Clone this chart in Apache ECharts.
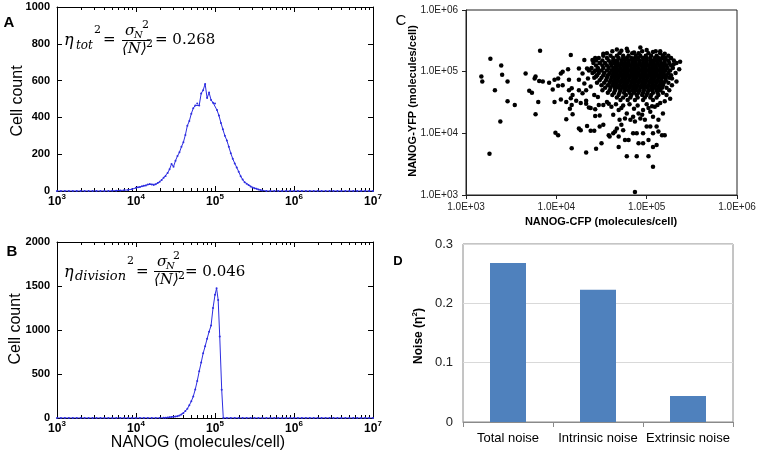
<!DOCTYPE html>
<html><head><meta charset="utf-8">
<script src="https://cdn.jsdelivr.net/npm/echarts@6/dist/echarts.min.js"></script>
<style>html,body{margin:0;padding:0;background:#fff}#c{width:759px;height:465px}</style>
</head><body><div id="c"></div>
<script>
// ---------- DATA ----------
// Panel A: total NANOG histogram (x as log10 molecules/cell, y cell count)
const histA_logX = [3.00,3.05,3.10,3.15,3.20,3.25,3.30,3.35,3.40,3.45,3.50,3.55,3.60,3.65,3.70,3.75,3.80,3.85,3.90,3.95,
  4.000,4.025,4.050,4.075,4.100,4.125,4.150,4.175,4.200,4.225,4.250,4.275,4.300,4.325,4.350,4.375,4.400,4.425,4.450,4.475,
  4.500,4.525,4.550,4.575,4.600,4.625,4.650,4.675,4.700,4.725,4.750,4.775,4.800,4.825,4.850,4.875,4.900,4.925,4.950,4.975,
  5.000,5.025,5.050,5.075,5.100,5.125,5.150,5.175,5.200,5.225,5.250,5.275,5.300,5.325,5.350,5.375,5.400,5.425,5.450,5.475,
  5.500,5.525,5.550,5.575,5.600,
  5.65,5.70,5.75,5.80,5.85,5.90,5.95,6.00,6.05,6.10,6.15,6.20,6.25,6.30,6.35,6.40,6.45,6.50,6.55,6.60,6.65,6.70,6.75,6.80,6.85,6.90,6.95,7.00];
const histA_count = [0,0,0,0,0,0,0,0,0,0,0,0,0,0,1,2,3,4,6,10,
  17,20,22,26,28,30,35,38,36,33,37,44,50,60,72,82,98,118,147,132,
  165,190,210,240,265,305,355,380,420,450,465,475,465,530,548,582,505,535,495,480,
  475,440,410,370,335,300,275,240,205,175,150,128,105,80,62,48,40,33,25,19,
  15,12,8,5,3,
  0,0,0,0,0,0,0,0,0,0,0,0,0,0,0,0,0,0,0,0,0,0,0,0,0,0,0,0];

// Panel B: division-noise histogram
const histB_logX = [3.00,3.05,3.10,3.15,3.20,3.25,3.30,3.35,3.40,3.45,3.50,3.55,3.60,3.65,3.70,3.75,3.80,3.85,3.90,3.95,
  4.00,4.05,4.10,4.15,4.20,4.25,4.30,
  4.350,4.375,4.400,4.425,4.450,4.475,4.500,4.525,4.550,4.575,4.600,4.625,4.650,4.675,4.700,4.725,4.750,4.775,4.800,4.825,
  4.850,4.875,4.900,4.925,4.950,4.975,5.000,5.020,5.040,5.060,5.085,5.105,
  5.15,5.20,5.25,5.30,5.35,5.40,5.45,5.50,5.55,5.60,5.65,5.70,5.75,5.80,5.85,5.90,5.95,6.00,6.05,6.10,6.15,6.20,6.25,6.30,
  6.35,6.40,6.45,6.50,6.55,6.60,6.65,6.70,6.75,6.80,6.85,6.90,6.95,7.00];
const histB_count = [0,0,0,0,0,0,0,0,0,0,0,0,0,0,0,0,0,0,0,0,
  0,0,0,0,0,0,1,
  2,4,6,8,12,14,16,20,28,40,57,80,105,145,190,245,325,420,530,630,
  735,815,900,980,1050,1250,1400,1474,1342,926,321,0,
  0,0,0,0,0,0,0,0,0,0,0,0,0,0,0,0,0,0,0,0,0,0,0,0,
  0,0,0,0,0,0,0,0,0,0,0,0,0,0];

const histA_yTicks = [0, 200, 400, 600, 800, 1000];
const histB_yTicks = [0, 500, 1000, 1500, 2000];
const histX_decades = [3, 4, 5, 6, 7];          // tick labels 10^3 ... 10^7
const scatter_decades = [3, 4, 5, 6];           // 1.0E+03 ... 1.0E+06

// Panel C: NANOG-CFP vs NANOG-YFP (log10 values), dense core given row by row [log10 YFP, [log10 CFP ...]]
const scatterCoreRows = [
  [5.33, [4.62,4.79,4.95,5.10]],
  [5.30, [4.56,4.70,4.84,4.91,5.02,5.15]],
  [5.26, [4.52,4.60,4.67,4.74,4.80,4.88,4.93,4.99,5.05,5.11,5.18,5.24]],
  [5.22, [4.47,4.56,4.63,4.69,4.74,4.78,4.83,4.87,4.91,4.96,5.00,5.04,5.09,5.13,5.17,5.21,5.27]],
  [5.18, [4.44,4.51,4.58,4.63,4.67,4.72,4.76,4.80,4.84,4.88,4.92,4.96,5.00,5.04,5.07,5.11,5.15,5.20,5.24,5.30]],
  [5.14, [4.41,4.48,4.54,4.60,4.64,4.68,4.72,4.76,4.80,4.84,4.88,4.92,4.96,5.00,5.04,5.08,5.12,5.16,5.20,5.25,5.33]],
  [5.10, [4.44,4.51,4.56,4.61,4.66,4.70,4.74,4.78,4.82,4.86,4.90,4.94,4.98,5.02,5.06,5.10,5.14,5.18,5.22,5.27]],
  [5.06, [4.39,4.46,4.52,4.58,4.63,4.67,4.71,4.75,4.79,4.83,4.87,4.91,4.95,4.99,5.03,5.07,5.11,5.15,5.19,5.23,5.29]],
  [5.02, [4.36,4.43,4.50,4.56,4.61,4.65,4.69,4.73,4.77,4.81,4.85,4.89,4.93,4.97,5.01,5.05,5.09,5.13,5.17,5.21,5.26]],
  [4.98, [4.40,4.47,4.53,4.59,4.63,4.67,4.71,4.75,4.79,4.83,4.87,4.91,4.95,4.99,5.03,5.07,5.11,5.15,5.19,5.24]],
  [4.94, [4.45,4.52,4.57,4.62,4.66,4.70,4.74,4.78,4.82,4.86,4.90,4.94,4.98,5.02,5.06,5.10,5.14,5.18,5.22,5.27]],
  [4.90, [4.42,4.50,4.56,4.61,4.65,4.69,4.73,4.77,4.81,4.85,4.89,4.93,4.97,5.01,5.05,5.09,5.13,5.17,5.21,5.25]],
  [4.86, [4.48,4.55,4.60,4.64,4.68,4.72,4.76,4.80,4.84,4.88,4.92,4.96,5.00,5.04,5.08,5.12,5.16,5.21]],
  [4.82, [4.45,4.53,4.59,4.63,4.67,4.71,4.75,4.79,4.83,4.87,4.91,4.95,4.99,5.03,5.07,5.11,5.15,5.19,5.24]],
  [4.78, [4.50,4.57,4.62,4.66,4.70,4.74,4.78,4.82,4.86,4.90,4.94,4.98,5.02,5.06,5.10,5.14,5.18]],
  [4.74, [4.54,4.60,4.65,4.69,4.73,4.77,4.81,4.85,4.89,4.93,4.97,5.01,5.05,5.09,5.13,5.17,5.22]],
  [4.70, [4.51,4.59,4.65,4.71,4.76,4.80,4.84,4.88,4.92,4.97,5.02,5.06,5.11,5.15]],
  [4.66, [4.57,4.64,4.70,4.75,4.81,4.86,4.91,4.96,5.01,5.07,5.12,5.18]],
  [4.62, [4.62,4.69,4.77,4.83,4.89,4.95,5.00,5.05,5.13]],
  [4.58, [4.67,4.74,4.82,4.90,4.98,5.04,5.11]],
  [4.54, [4.71,4.79,4.87,4.96,5.07]]
];
// scattered cells outside the dense core: [log10 CFP, log10 YFP]
const scatterOutliers = [
  [3.17,4.92],[3.18,4.84],[3.27,5.21],[3.32,4.70],[3.39,5.10],[3.40,4.95],[3.46,4.84],[3.46,4.52],[3.54,4.46],[3.38,4.19],[3.26,3.67],
  [3.66,4.97],[3.70,4.69],[3.73,4.66],[3.76,4.89],[3.77,4.92],[3.81,4.85],[3.85,4.84],[3.77,4.31],[3.80,4.51],[3.82,5.34],
  [3.92,4.82],[3.98,4.87],[3.96,4.71],[3.98,4.51],[3.99,4.01],[4.02,3.97],[4.02,4.89],[4.02,4.77],[4.05,4.97],[4.07,5.00],[4.13,5.04],[4.07,4.78],[4.14,4.87],[4.05,4.55],[4.11,4.51],
  [4.14,4.70],[4.17,4.73],[4.18,4.62],[4.16,4.57],[4.16,5.27],[4.17,4.46],[4.22,4.53],[4.15,4.40],[4.18,4.31],[4.11,4.23],[4.17,3.76],[4.27,4.49],[4.33,4.53],
  [4.25,4.87],[4.25,5.05],[4.29,4.97],[4.31,5.19],[4.34,5.05],[4.37,5.03],[4.40,5.19],[4.42,5.00],[4.44,4.92],[4.46,5.03],[4.48,5.14],[4.25,4.70],[4.29,4.65],[4.33,4.70],[4.38,4.76],[4.42,4.62],[4.46,4.59],[4.31,4.81],[4.35,4.89],[4.43,5.22],
  [4.33,4.48],[4.36,4.42],[4.38,4.41],[4.43,4.39],[4.43,4.28],[4.47,4.46],[4.48,4.29],[4.34,4.12],[4.25,4.08],[4.27,4.05],[4.38,4.04],[4.42,4.04],[4.48,4.11],[4.33,3.69],[4.44,3.75],
  [4.52,4.46],[4.56,4.51],[4.61,4.43],[4.63,4.30],[4.69,4.38],[4.70,4.22],[4.72,4.14],[4.76,4.24],[4.78,4.32],[4.82,4.22],[4.85,4.27],[4.87,4.19],[4.91,4.32],[4.93,4.24],[4.95,4.30],[4.96,4.38],[4.98,4.22],[5.00,4.11],[5.04,4.35],[5.07,4.27],[5.09,4.43],[5.11,4.11],[5.13,4.22],[5.15,4.49],[5.18,4.32],[5.20,3.97],
  [4.65,4.03],[4.67,4.08],[4.74,4.05],[4.85,4.00],[4.89,4.00],[4.96,4.00],[5.04,4.11],[5.07,4.00],[5.13,4.03],[4.52,4.14],[4.58,3.97],[4.59,3.95],[4.69,3.95],[4.50,3.84],[4.76,3.89],[4.80,3.89],[4.91,3.84],[4.96,3.84],[5.02,3.89],[5.07,3.78],[5.11,3.81],[5.17,3.97],[4.78,3.63],[4.89,3.63],[5.02,3.63],[5.07,3.46],[4.87,3.05],[4.69,3.78],[4.63,4.00],
  [4.58,4.48],[4.66,4.47],[4.74,4.45],[4.81,4.47],[4.90,4.45],[5.00,4.47],[5.06,4.44],[5.12,4.46],[4.86,4.40],[4.72,4.41],[5.02,4.41],
  [5.37,5.16],[5.30,5.12],[5.28,4.89],[5.33,4.84],[5.28,4.78],[5.36,5.04],[5.32,4.98],[5.25,4.70],[5.22,4.62],[5.26,4.56],[5.20,4.52],
  [4.78,5.37],[5.07,5.32],[5.00,5.35],[4.86,5.31],[4.52,5.29],[4.67,5.36],[5.15,5.33],[4.93,5.39],[5.20,5.29],[4.72,5.34]
];

// Panel D: noise decomposition
const noiseCategories = ['Total noise', 'Intrinsic noise', 'Extrinsic noise'];
const noiseValues = [0.268, 0.223, 0.044];
const noiseYTicks = [0, 0.1, 0.2, 0.3];

// ---------- BUILD ----------
const F = 'Arial, "Liberation Sans", sans-serif';
const SERIF = '"DejaVu Serif", "Liberation Serif", serif';
const BLUE = '#2d2de0';

const minorTicks = [];
for (let n = 3; n < 7; n++) for (let k = 2; k <= 9; k++) minorTicks.push(n + Math.log10(k));

const histAData = histA_logX.map((x, i) => [x, histA_count[i]]);
const histBData = histB_logX.map((x, i) => [x, histB_count[i]]);
const scatterData = [];
scatterCoreRows.forEach(r => r[1].forEach(lx => scatterData.push([Math.pow(10, lx), Math.pow(10, r[0])])));
scatterOutliers.forEach(p => scatterData.push([Math.pow(10, p[0]), Math.pow(10, p[1])]));

const xLab = {
  formatter: v => '{b|10}{s|' + v + '}', margin: 2,
  rich: {
    b: {fontSize: 12, fontWeight: 'bold', fontFamily: F, color: '#000', lineHeight: 15, verticalAlign: 'bottom'},
    s: {fontSize: 8, fontWeight: 'bold', fontFamily: F, color: '#000', lineHeight: 9, verticalAlign: 'top'}
  }
};
function xAx(grid, pos, minor, label) {
  return {
    gridIndex: grid, type: 'value', min: histX_decades[0], max: histX_decades[histX_decades.length - 1], interval: 1, position: pos,
    axisLine: {show: !minor, onZero: false, lineStyle: {color: '#000', width: 1}},
    axisTick: minor ? {show: true, inside: true, length: 3, customValues: minorTicks, lineStyle: {color: '#000'}}
                    : {show: true, inside: true, length: 5, lineStyle: {color: '#000'}},
    axisLabel: label ? xLab : {show: false},
    splitLine: {show: false}
  };
}
function yAx(grid, pos, ticks, label) {
  return {
    gridIndex: grid, type: 'value', min: ticks[0], max: ticks[ticks.length - 1], interval: ticks[1] - ticks[0], position: pos,
    axisLine: {show: true, onZero: false, lineStyle: {color: '#000', width: 1}},
    axisTick: {show: true, inside: true, length: 5, lineStyle: {color: '#000'}},
    axisLabel: label ? {formatter: v => String(v), fontSize: 11, fontWeight: 'bold', fontFamily: F, color: '#000', margin: 7} : {show: false},
    splitLine: {show: false}
  };
}
const sciLabel = v => '1.0E+0' + Math.round(Math.log10(v));

function T(x, y, text, font) {
  return {type: 'text', x: x, y: y, silent: true,
    style: {text: text, font: font, fill: '#000', align: 'left', verticalAlign: 'middle', textAlign: 'left', textVerticalAlign: 'middle'}};
}
function TC(x, y, text, font, rot) {
  return {type: 'text', x: x, y: y, rotation: rot || 0, silent: true,
    style: {text: text, font: font, fill: '#000', align: 'center', verticalAlign: 'middle', textAlign: 'center', textVerticalAlign: 'middle'}};
}
function L(x1, y, x2) {
  return {type: 'line', silent: true, shape: {x1: x1, y1: y, x2: x2, y2: y}, style: {stroke: '#000', lineWidth: 1}};
}
const it = s => 'italic ' + s + 'px ' + SERIF;
const up = s => s + 'px ' + SERIF;

const graphics = [
  // panel letters
  TC(9, 23, 'A', 'bold 15px ' + F), TC(12, 252, 'B', 'bold 15px ' + F),
  TC(401, 21, 'C', '15px ' + F), TC(398, 261, 'D', 'bold 13px ' + F),
  // axis titles
  TC(18, 101, 'Cell count', '16px ' + F, Math.PI / 2),
  TC(16, 329, 'Cell count', '16px ' + F, Math.PI / 2),
  TC(198, 443, 'NANOG (molecules/cell)', '16px ' + F),
  TC(601, 222, 'NANOG-CFP (molecules/cell)', 'bold 11px ' + F),
  TC(413, 101, 'NANOG-YFP (molecules/cell)', 'bold 11px ' + F, Math.PI / 2),
  {type: 'text', x: 418, y: 336, rotation: Math.PI / 2, silent: true,
    style: {text: '{b|Noise (η}{s|2}{b|)}', align: 'center', verticalAlign: 'middle', textAlign: 'center', textVerticalAlign: 'middle',
      rich: {b: {font: 'bold 12px ' + F, fill: '#000', color: '#000', lineHeight: 14, verticalAlign: 'bottom'},
             s: {font: 'bold 8px ' + F, fill: '#000', color: '#000', lineHeight: 9, verticalAlign: 'top'}}}},
  // formula A
  T(64, 41, 'η', it(16)), T(76, 46, 'tot', it(12)), T(94, 30, '2', up(11)),
  T(103, 40, '=', up(15)),
  T(125, 31, 'σ', it(15)), T(134, 35, 'N', it(10)), T(142, 25, '2', up(11)),
  L(122, 40.5, 150),
  T(122, 49, '⟨N⟩', it(15)), T(146, 44, '2', up(11)),
  T(155, 40, '= 0.268', up(15)),
  // formula B
  T(64, 273, 'η', it(16)), T(75, 277, 'division', it(13)), T(127, 261, '2', up(11)),
  T(136, 272, '=', up(15)),
  T(157, 262, 'σ', it(15)), T(166, 266, 'N', it(10)), T(173, 256, '2', up(11)),
  L(154, 271.5, 182),
  T(154, 280, '⟨N⟩', it(15)), T(178, 276, '2', up(11)),
  T(185, 272, '= 0.046', up(15))
];

const option = {
  animation: false,
  backgroundColor: '#fff',
  grid: [
    {left: 57, top: 7, width: 316, height: 184, outerBoundsMode: 'none'},
    {left: 57, top: 242, width: 316, height: 176, outerBoundsMode: 'none'},
    {left: 466, top: 10, width: 271, height: 185, outerBoundsMode: 'none', show: true, borderColor: '#222', borderWidth: 1},
    {left: 463, top: 244, width: 270, height: 178, outerBoundsMode: 'none', show: true, borderColor: '#8a8a8a', borderWidth: 1}
  ],
  xAxis: [
    xAx(0, 'bottom', false, true), xAx(0, 'bottom', true, false), xAx(0, 'top', false, false), xAx(0, 'top', true, false),
    xAx(1, 'bottom', false, true), xAx(1, 'bottom', true, false), xAx(1, 'top', false, false), xAx(1, 'top', true, false),
    {gridIndex: 2, type: 'log', logBase: 10, min: Math.pow(10, scatter_decades[0]), max: Math.pow(10, scatter_decades[3]), position: 'bottom',
      axisLine: {show: true, onZero: false, lineStyle: {color: '#222'}},
      axisTick: {show: true, inside: false, length: 4, lineStyle: {color: '#222'}},
      axisLabel: {formatter: sciLabel, fontSize: 10, fontFamily: F, color: '#222', margin: 7},
      splitLine: {show: false}, minorTick: {show: false}},
    {gridIndex: 3, type: 'category', data: noiseCategories, position: 'bottom',
      axisLine: {show: true, onZero: false, lineStyle: {color: '#8a8a8a'}},
      axisTick: {show: true, length: 5, alignWithLabel: false, interval: 0, lineStyle: {color: '#8a8a8a'}},
      axisLabel: {interval: 0, fontSize: 13, fontFamily: F, color: '#000', margin: 10, hideOverlap: false},
      splitLine: {show: false}}
  ],
  yAxis: [
    yAx(0, 'left', histA_yTicks, true), yAx(0, 'right', histA_yTicks, false),
    yAx(1, 'left', histB_yTicks, true), yAx(1, 'right', histB_yTicks, false),
    {gridIndex: 2, type: 'log', logBase: 10, min: Math.pow(10, scatter_decades[0]), max: Math.pow(10, scatter_decades[3]), position: 'left',
      axisLine: {show: true, onZero: false, lineStyle: {color: '#222'}},
      axisTick: {show: true, inside: false, length: 4, lineStyle: {color: '#222'}},
      axisLabel: {formatter: sciLabel, fontSize: 10, fontFamily: F, color: '#222', margin: 8},
      splitLine: {show: false}, minorTick: {show: false}},
    {gridIndex: 3, type: 'value', min: noiseYTicks[0], max: noiseYTicks[3], interval: 0.1, position: 'left',
      axisLine: {show: false, onZero: false}, axisTick: {show: false},
      axisLabel: {formatter: v => v === 0 ? '0' : v.toFixed(1), fontSize: 13, fontFamily: F, color: '#222', margin: 10},
      splitLine: {show: true, lineStyle: {color: '#d9d9d9', width: 1}}}
  ],
  series: [
    {type: 'line', xAxisIndex: 0, yAxisIndex: 0, data: histAData, symbol: 'circle', symbolSize: 2, showSymbol: true,
      lineStyle: {color: BLUE, width: 1}, itemStyle: {color: BLUE}, z: 3},
    {type: 'line', xAxisIndex: 4, yAxisIndex: 2, data: histBData, symbol: 'circle', symbolSize: 2, showSymbol: true,
      lineStyle: {color: BLUE, width: 1}, itemStyle: {color: BLUE}, z: 3},
    {type: 'scatter', xAxisIndex: 8, yAxisIndex: 4, data: scatterData, symbol: 'circle', symbolSize: 4.5,
      itemStyle: {color: '#000', opacity: 1}, z: 3},
    {type: 'bar', xAxisIndex: 9, yAxisIndex: 5, data: noiseValues, barWidth: 36,
      itemStyle: {color: '#4f81bd'}, z: 3}
  ],
  graphic: {elements: graphics}
};
const chart = echarts.init(document.getElementById('c'), null, {renderer: 'canvas'});
chart.setOption(option);
</script></body></html>
